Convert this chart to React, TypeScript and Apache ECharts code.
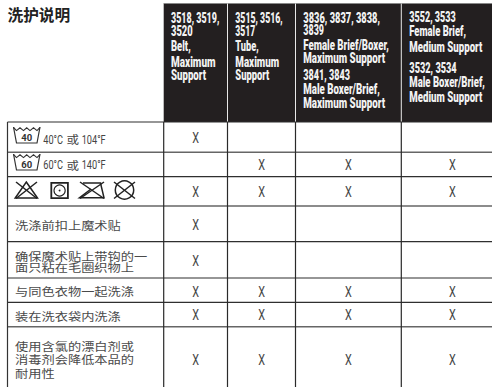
import React, { useEffect, useRef } from "react";
import * as echarts from "echarts";

const pageTitle = "洗护说明";
const col1Header = ["3518, 3519,", "3520", "Belt,", "Maximum", "Support"];
const col2Header = ["3515, 3516,", "3517", "Tube,", "Maximum", "Support"];
const col3Header = ["3836, 3837, 3838,", "3839", "Female Brief/Boxer,", "Maximum Support", "3841, 3843", "Male Boxer/Brief,", "Maximum Support"];
const col4Header = ["3552, 3533", "Female Brief,", "Medium Support", "3532, 3534", "Male Boxer/Brief,", "Medium Support"];
const columnHeaders = [col1Header, col2Header, col3Header, col4Header];
const tempRows = [
  ["40", "40°C", "或", "104°F"],
  ["60", "60°C", "或", "140°F"],
];
const textRows = [
  ["洗涤前扣上魔术贴"],
  ["确保魔术贴上带钩的一", "面只粘在毛圈织物上"],
  ["与同色衣物一起洗涤"],
  ["装在洗衣袋内洗涤"],
  ["使用含氯的漂白剂或", "消毒剂会降低本品的", "耐用性"],
];
const col1Marks = [1, 0, 1, 1, 1, 1, 1, 1];
const col2Marks = [0, 1, 1, 0, 0, 1, 1, 1];
const col3Marks = [0, 1, 1, 0, 0, 1, 1, 1];
const col4Marks = [0, 1, 1, 0, 0, 1, 1, 1];
const markColumns = [col1Marks, col2Marks, col3Marks, col4Marks];

// layout
const colX = [163.7, 227.5, 295.5, 401.3, 492];
const rowY = [122, 152.3, 176.6, 206, 241.6, 278, 302.4, 326.8];
const LEFT = 7.5;
const CN = "'Noto Sans CJK SC'";
const HEAD_FONT = "900 15px Roboto";
const headX = [171, 235.3, 303.3, 409.3];
const headLineY = [
  [17.7, 31, 46, 61.7, 75],
  [17.7, 31, 46, 61.7, 75],
  [17.7, 30, 44.3, 57.3, 75, 89, 102.7],
  [17, 31, 46.3, 67.7, 82, 97],
];
const headLineW = [
  [48.3, 21.7, 19.7, 44.7, 35],
  [47.4, 20, 23.4, 44, 34],
  [76.7, 20.7, 85.7, 81.7, 46.7, 76.7, 81.7],
  [46.4, 56.7, 73, 47.4, 75.7, 73],
];
const textRowY = [[225], [256.7, 267.6], [291], [316], [346, 359.5, 373]];
const markCenterX = [195.7, 261.7, 348.3, 452.3];
const markCenterY = [138.3, 165, 191.7, 225, 261, 291.7, 315, 360];
const tempY = [139, 164.5];

const ctx = document.createElement("canvas").getContext("2d")!;
const fit = (text: string, font: string, width: number) => {
  ctx.font = font;
  return width / ctx.measureText(text).width;
};

const hLine = (y: number, w: number, c: string) => ({
  type: "line", shape: { x1: LEFT, y1: y, x2: 492, y2: y }, style: { stroke: c, lineWidth: w }, silent: true,
});
const vLine = (x: number, y1: number, y2: number, c = "#2a2a2a", w = 1.2) => ({
  type: "line", shape: { x1: x, y1, x2: x, y2 }, style: { stroke: c, lineWidth: w }, silent: true,
});

const tub = (x: number, y: number, num: string) => ({
  type: "group", x, y, children: [
    { type: "polyline", shape: { points: [[0, 0], [3, 16], [23.5, 16], [26.5, 0]] }, style: { fill: "none", stroke: "#333", lineWidth: 1.2 } },
    { type: "polyline", shape: { points: [[0, 0.5], [3, 3.6], [6.5, 0.8], [10, 3.6], [13.2, 0.8], [16.5, 3.6], [20, 0.8], [23.5, 3.6], [26.5, 0.5]] }, style: { fill: "none", stroke: "#333", lineWidth: 1.1 } },
    { type: "text", x: 13.3, y: 10.2, style: { text: num, fill: "#333", font: "bold 9.5px Roboto", align: "center", verticalAlign: "middle" } },
  ],
});

const stroke = { fill: "none", stroke: "#222", lineWidth: 1.5 };
const careIcons = {
  type: "group", x: 0, y: 0, children: [
    { type: "polygon", shape: { points: [[26.3, 182], [37.5, 198], [15.2, 198]] }, style: stroke },
    { type: "line", shape: { x1: 16, y1: 182, x2: 37, y2: 198.5 }, style: stroke },
    { type: "line", shape: { x1: 37, y1: 182, x2: 16, y2: 198.5 }, style: stroke },
    { type: "rect", shape: { x: 51.3, y: 182.8, width: 16.6, height: 15.4 }, style: { ...stroke, lineWidth: 1.8 } },
    { type: "circle", shape: { cx: 59.6, cy: 190.5, r: 5.6 }, style: { ...stroke, lineWidth: 1.1 } },
    { type: "circle", shape: { cx: 59.6, cy: 190.5, r: 0.9 }, style: { fill: "#222" } },
    { type: "polyline", shape: { points: [[83, 183], [100.5, 183], [104, 197.8], [79.5, 197.8], [91, 189]] }, style: stroke },
    { type: "line", shape: { x1: 80, y1: 182, x2: 104, y2: 198.5 }, style: stroke },
    { type: "line", shape: { x1: 104, y1: 182, x2: 80, y2: 198.5 }, style: stroke },
    { type: "circle", shape: { cx: 124.5, cy: 190, r: 9.2 }, style: stroke },
    { type: "line", shape: { x1: 114, y1: 182, x2: 135, y2: 198.5 }, style: stroke },
    { type: "line", shape: { x1: 135, y1: 182, x2: 114, y2: 198.5 }, style: stroke },
  ],
};

function buildGraphic() {
  const els: any[] = [];
  els.push({ type: "rect", shape: { x: colX[0], y: 3.5, width: 492 - colX[0], height: rowY[0] - 3.5 }, style: { fill: "#231f20" } });
  els.push({ type: "line", shape: { x1: colX[0], y1: 3.5, x2: 492, y2: 3.5 }, style: { stroke: "#888", lineWidth: 1 } });
  els.push({ type: "text", x: 7.5, y: 14, style: { text: pageTitle, fill: "#222", font: `bold 15.7px ${CN}`, verticalAlign: "middle" } });
  for (let i = 1; i <= 3; i++) els.push(vLine(colX[i], 3.5, rowY[0], "#e8e8e8", 1));
  columnHeaders.forEach((lines, c) => {
    lines.forEach((t, i) => {
      els.push({
        type: "text", x: headX[c], y: headLineY[c][i], scaleX: fit(t, HEAD_FONT, headLineW[c][i]),
        style: { text: t, fill: "#f2f2f2", font: HEAD_FONT, verticalAlign: "middle" },
      });
    });
  });
  rowY.forEach((y, i) => {
    const gray = i === 1 || i === 3 || i === 7;
    els.push(hLine(y, gray ? 1.6 : 1.2, gray ? "#666" : "#2f2f2f"));
  });
  els.push(vLine(LEFT, rowY[0], 387, "#333", 1.2));
  for (let i = 0; i <= 3; i++) els.push(vLine(colX[i], rowY[0], 387));
  tempRows.forEach((row, r) => {
    const [num, a, m, b] = row;
    const y = tempY[r];
    els.push({ type: "text", x: 43.3, y, scaleX: 0.68, style: { text: a, fill: "#444", font: "13.5px Roboto", verticalAlign: "middle" } });
    els.push({ type: "text", x: 66.5, y, scaleY: 0.9, style: { text: m, fill: "#444", font: `12.5px ${CN}`, verticalAlign: "middle" } });
    els.push({ type: "text", x: 81.7, y, scaleX: 0.68, style: { text: b, fill: "#444", font: "13.5px Roboto", verticalAlign: "middle" } });
    els.push(tub(13.5, r === 0 ? 127 : 154, num));
  });
  els.push(careIcons);
  textRows.forEach((lines, r) => {
    lines.forEach((t, i) => {
      els.push({ type: "text", x: 15, y: textRowY[r][i], scaleY: 0.83, style: { text: t, fill: "#4a4a4a", font: `13.25px ${CN}`, verticalAlign: "middle" } });
    });
  });
  return els;
}

const markData: number[][] = [];
markColumns.forEach((col, c) => col.forEach((v, r) => { if (v) markData.push([c, r]); }));

export default function App() {
  const ref = useRef<HTMLDivElement>(null);
  useEffect(() => {
    const chart = echarts.init(ref.current!, undefined, { renderer: "svg" });
    chart.setOption({
      animation: false,
      backgroundColor: "#fff",
      graphic: buildGraphic(),
      series: [{
        type: "custom",
        coordinateSystem: "none",
        silent: true,
        data: markData,
        renderItem: (_p: any, api: any) => ({
          type: "text",
          x: markCenterX[api.value(0)],
          y: markCenterY[api.value(1)],
          scaleX: 0.72,
          style: { text: "X", fill: "#444", font: "15px Roboto", align: "center", verticalAlign: "middle" },
        }),
      }],
    });
    return () => chart.dispose();
  }, []);
  return <div ref={ref} style={{ position: "fixed", left: 0, top: 0, width: 492, height: 387 }} />;
}
